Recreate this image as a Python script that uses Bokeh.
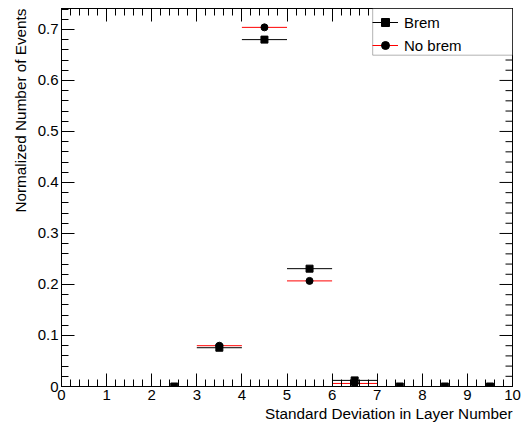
import math
from bokeh.plotting import figure
from bokeh.models import (Range1d, LinearAxis, SingleIntervalTicker, Title, Legend,
                          LegendItem, BoxAnnotation, ColumnDataSource, CustomJSTickFormatter)
from bokeh.embed import file_html
from bokeh.resources import INLINE

# ---- data ----
bin_width = 1.0
brem_centers = [2.5, 3.5, 4.5, 5.5, 6.5, 7.5, 8.5, 9.5]
brem_values = [0.0, 0.076, 0.680, 0.231, 0.012, 0.0, 0.0, 0.0]
nobrem_centers = [3.5, 4.5, 5.5, 6.5]
nobrem_values = [0.080, 0.704, 0.207, 0.006]
x_label = "Standard Deviation in Layer Number"
y_label = "Normalized Number of Events"
legend_labels = ["Brem", "No brem"]

X_MIN, X_MAX = 0.0, 10.0
Y_MIN, Y_MAX = 0.0, 0.741
Y_MAJOR, Y_SUB = 0.1, 5
FONT = "Liberation Sans"
FS = "15px"
TITLE_FS = "15.3px"
W, H = 522, 423


def bars(centers, values):
    x0 = [c - bin_width / 2 for c, v in zip(centers, values) if v > 0]
    x1 = [c + bin_width / 2 for c, v in zip(centers, values) if v > 0]
    y = [v for v in values if v > 0]
    return ColumnDataSource(dict(x0=x0, x1=x1, y=y))


p = figure(width=W, height=H, output_backend="svg", toolbar_location=None,
           x_range=Range1d(X_MIN, X_MAX), y_range=Range1d(Y_MIN, Y_MAX),
           x_axis_type=None, y_axis_type=None,
           min_border_left=61, min_border_right=10, min_border_top=8, min_border_bottom=37)
p.background_fill_color = "white"
p.border_fill_color = "white"
p.outline_line_color = "black"
p.outline_line_width = 1
p.grid.visible = False

xt = SingleIntervalTicker(interval=1, num_minor_ticks=5)
yt = SingleIntervalTicker(interval=Y_MAJOR, num_minor_ticks=Y_SUB)


def style_axis(ax, labels=True):
    ax.axis_line_color = "black"
    ax.major_tick_line_color = "black"
    ax.minor_tick_line_color = "black"
    ax.major_tick_in = 13
    ax.major_tick_out = 0
    ax.minor_tick_in = 7
    ax.minor_tick_out = 0
    if labels:
        ax.major_label_text_font = FONT
        ax.major_label_text_font_size = FS
        ax.major_label_text_color = "black"
        ax.major_label_standoff = 3
    else:
        ax.formatter = CustomJSTickFormatter(code="return '';")
        ax.major_label_standoff = 0


xb = LinearAxis(ticker=xt)
style_axis(xb)
p.add_layout(xb, "below")
yl = LinearAxis(ticker=yt)
style_axis(yl)
yl.major_label_overrides = {0: "0"}
p.add_layout(yl, "left")
xa = LinearAxis(ticker=xt)
style_axis(xa, labels=False)
p.add_layout(xa, "above")

# right-hand ticks (drawn inward from the right frame edge)
n_minor = int(round(Y_MAX / (Y_MAJOR / Y_SUB)))
y_minor_ticks = [i * Y_MAJOR / Y_SUB for i in range(n_minor + 1) if i % Y_SUB]
y_major_ticks = [i * Y_MAJOR for i in range(int(Y_MAX / Y_MAJOR) + 1)]
p.ray(x=[X_MAX] * len(y_major_ticks), y=y_major_ticks, length=13, length_units="screen",
      angle=math.pi, line_color="black", line_width=1)
p.ray(x=[X_MAX] * len(y_minor_ticks), y=y_minor_ticks, length=7, length_units="screen",
      angle=math.pi, line_color="black", line_width=1)

# ---- series ----
nb_bar = p.segment(x0="x0", y0="y", x1="x1", y1="y", source=bars(nobrem_centers, nobrem_values),
                   line_color="red", line_width=1)
nb_pt = p.scatter(nobrem_centers, nobrem_values, marker="circle", size=7,
                  fill_color="black", line_color="black")
b_bar = p.segment(x0="x0", y0="y", x1="x1", y1="y", source=bars(brem_centers, brem_values),
                  line_color="black", line_width=1)
b_pt = p.scatter(brem_centers, brem_values, marker="square", size=7,
                 fill_color="black", line_color="black")

# ---- legend ----
box = BoxAnnotation(left=6.9, right=X_MAX, bottom=0.6495, top=Y_MAX,
                    fill_color="white", fill_alpha=1.0, line_color="black", line_width=1,
                    level="annotation")
p.add_layout(box)
legend = Legend(items=[LegendItem(label=legend_labels[0], renderers=[b_bar, b_pt]),
                       LegendItem(label=legend_labels[1], renderers=[nb_bar, nb_pt])],
                location=(311, 331), border_line_color=None, background_fill_alpha=0,
                padding=2, spacing=3, margin=0, glyph_width=26, glyph_height=20,
                label_height=20, label_standoff=6,
                label_text_font=FONT, label_text_font_size=FS, label_text_color="black")
p.add_layout(legend, "center")

# ---- axis titles ----
p.add_layout(Title(text=x_label, align="right", text_font=FONT, text_font_size=TITLE_FS,
                   text_font_style="normal", text_color="black", standoff=0, offset=0),
             "below")
p.add_layout(Title(text=y_label, align="right", text_font=FONT, text_font_size=TITLE_FS,
                   text_font_style="normal", text_color="black", standoff=11, offset=0),
             "left")

open("out.html", "w").write(file_html(p, INLINE))
